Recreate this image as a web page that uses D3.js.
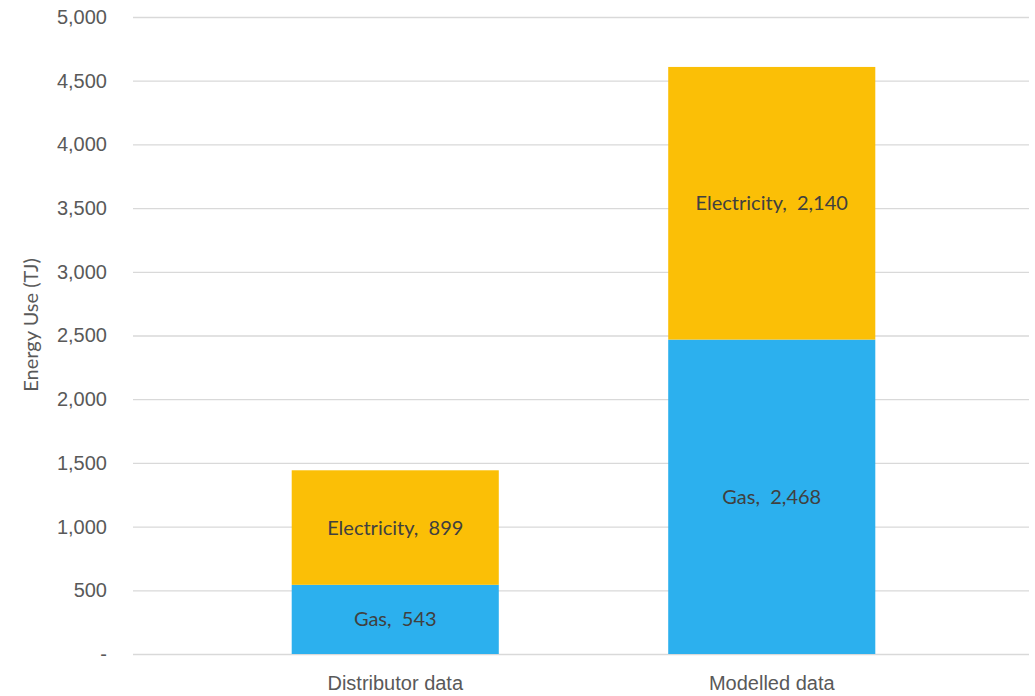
<!DOCTYPE html>
<html>
<head>
<meta charset="utf-8">
<script src="https://cdn.jsdelivr.net/npm/d3@7"></script>
<style>
  body { margin: 0; background: #fff; }
  svg { display: block; font-family: Lato, "Open Sans", sans-serif; }
</style>
</head>
<body>
<svg width="1035" height="696"></svg>
<script>
// chart values
var categories = ['Distributor data', 'Modelled data'];
var gas = [543, 2468];
var electricity = [899, 2140];
var yTicks = [0, 500, 1000, 1500, 2000, 2500, 3000, 3500, 4000, 4500, 5000];
var seriesNames = ['Gas', 'Electricity'];
var colors = ['#2CB0EE', '#FBBF06'];

var svg = d3.select('svg');

var rows = categories.map(function (c, i) {
  return { cat: c, Gas: gas[i], Electricity: electricity[i] };
});
var stacked = d3.stack().keys(seriesNames)(rows);

var yScale = d3.scaleLinear().domain([0, 5000]).range([654, 17]);
var xScale = d3.scaleBand().domain(categories).range([207, 960]).paddingInner(0.45).paddingOuter(0.225);
var fmt = d3.format(',');

/**
 * Gridlines + y axis
 */
var yAxis = d3.axisLeft(yScale)
  .tickValues(yTicks)
  .tickSize(-(1029 - 133))
  .tickPadding(26)
  .tickFormat(function (d) { return d === 0 ? '-' : fmt(d); });

var gy = svg.append('g')
  .attr('transform', 'translate(133,0)')
  .call(yAxis);
gy.select('.domain').remove();
gy.selectAll('.tick line').attr('stroke', '#d9d9d9').attr('stroke-width', 1.3);
gy.selectAll('.tick text')
  .attr('fill', '#595959')
  .style('font-size', '20px');

/**
 * Bars
 */
var layers = svg.selectAll('g.layer')
  .data(stacked)
  .enter()
  .append('g')
  .attr('class', 'layer')
  .attr('fill', function (d, i) { return colors[i]; });

layers.selectAll('rect')
  .data(function (d) { return d; })
  .enter()
  .append('rect')
  .attr('x', function (d) { return xScale(d.data.cat); })
  .attr('width', xScale.bandwidth())
  .attr('y', function (d) { return yScale(d[1]); })
  .attr('height', function (d) { return yScale(d[0]) - yScale(d[1]); });

// data labels
layers.each(function (layer) {
  d3.select(this).selectAll('text')
    .data(layer)
    .enter()
    .append('text')
    .attr('x', function (d) { return xScale(d.data.cat) + xScale.bandwidth() / 2; })
    .attr('y', function (d) { return (yScale(d[0]) + yScale(d[1])) / 2; })
    .attr('dy', '0.35em')
    .attr('text-anchor', 'middle')
    .attr('fill', '#404040')
    .style('font-size', '20px')
    .style('white-space', 'pre')
    .text(function (d) { return layer.key + ',  ' + fmt(d[1] - d[0]); });
});

/**
 * X axis labels
 */
var gx = svg.append('g')
  .attr('transform', 'translate(0,654)')
  .call(d3.axisBottom(xScale).tickSize(0).tickPadding(22));
gx.select('.domain').remove();
gx.selectAll('.tick text')
  .attr('fill', '#595959')
  .style('font-size', '20px');

// y title
svg.append('text')
  .attr('transform', 'translate(38,325) rotate(-90)')
  .attr('text-anchor', 'middle')
  .attr('fill', '#595959')
  .style('font-size', '20px')
  .text('Energy Use (TJ)');
</script>
</body>
</html>
